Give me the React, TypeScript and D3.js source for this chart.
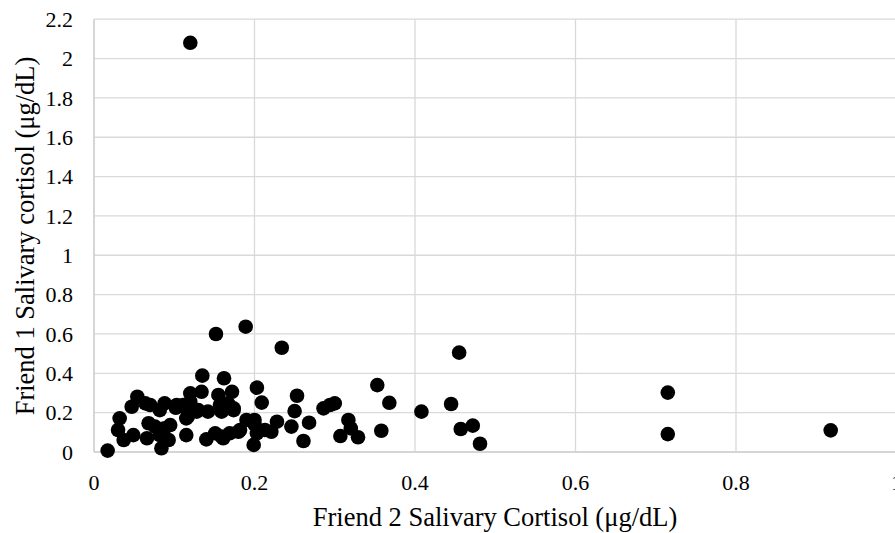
import React from "react";
import * as d3 from "d3";

const friend2: number[] = [
  0.12, 0.715, 0.715, 0.918, 0.455, 0.353, 0.368, 0.408, 0.445, 0.457,
  0.472, 0.481, 0.358, 0.317, 0.32, 0.307, 0.329, 0.286, 0.294, 0.3,
  0.268, 0.261, 0.253, 0.25, 0.246, 0.152, 0.189, 0.234, 0.135, 0.162,
  0.203, 0.209, 0.199, 0.228, 0.221, 0.203, 0.19, 0.2, 0.18, 0.169,
  0.159, 0.151, 0.14, 0.115, 0.115, 0.111, 0.12, 0.134, 0.13, 0.142,
  0.155, 0.159, 0.172, 0.167, 0.174, 0.157, 0.017, 0.032, 0.03, 0.037,
  0.049, 0.047, 0.054, 0.07, 0.064, 0.068, 0.066, 0.076, 0.084, 0.082,
  0.088, 0.093, 0.095, 0.088, 0.082, 0.103, 0.117, 0.174, 0.12, 0.128,
  0.113, 0.213, 0.182, 0.161, 0.102, 0.2,
];
const friend1: number[] = [
  2.08, 0.302, 0.091, 0.11, 0.505, 0.34, 0.25, 0.205, 0.244, 0.117,
  0.134, 0.042, 0.108, 0.163, 0.12, 0.081, 0.075, 0.222, 0.239, 0.247,
  0.149, 0.056, 0.286, 0.208, 0.129, 0.6, 0.637, 0.53, 0.388, 0.375,
  0.327, 0.251, 0.036, 0.154, 0.103, 0.095, 0.163, 0.163, 0.103, 0.095,
  0.078, 0.095, 0.064, 0.086, 0.171, 0.239, 0.298, 0.306, 0.213, 0.205,
  0.29, 0.205, 0.306, 0.247, 0.213, 0.239, 0.007, 0.171, 0.112, 0.061,
  0.086, 0.23, 0.281, 0.239, 0.247, 0.146, 0.07, 0.129, 0.019, 0.086,
  0.247, 0.061, 0.137, 0.12, 0.213, 0.239, 0.18, 0.222, 0.256, 0.205,
  0.23, 0.112, 0.112, 0.07, 0.225, 0.14,
];
const xTicks: number[] = [0, 0.2, 0.4, 0.6, 0.8, 1];
const yTicks: number[] = [0, 0.2, 0.4, 0.6, 0.8, 1, 1.2, 1.4, 1.6, 1.8, 2, 2.2];
const xTitle = "Friend 2 Salivary Cortisol (μg/dL)";
const yTitle = "Friend 1 Salivary cortisol (μg/dL)";

export default function App() {
  const W = 895, H = 533;
  const left = 94, right = 896.5, top = 19.2, bottom = 452;
  const x = d3.scaleLinear().domain([0, 1]).range([left, right]);
  const y = d3.scaleLinear().domain([0, 2.2]).range([bottom, top]);
  const font = "'Liberation Serif', 'Times New Roman', serif";
  const pts = friend2.map((v, i) => ({ x: v, y: friend1[i] }));
  const fmt = (t: number) => String(+t.toFixed(1));
  return (
    <svg width={W} height={H} style={{ position: "absolute", left: 0, top: 0, background: "#fff", fontFamily: font }}>
      <rect x={0} y={0} width={W} height={H} fill="#fff" />
      {yTicks.map((t) => (
        <line key={"gy" + t} x1={left} x2={W} y1={y(t)} y2={y(t)} stroke="#d9d9d9" strokeWidth={1.3} />
      ))}
      {xTicks.map((t) => (
        <line key={"gx" + t} x1={x(t)} x2={x(t)} y1={top} y2={bottom} stroke="#d9d9d9" strokeWidth={1.3} />
      ))}
      <line x1={left} x2={W} y1={bottom} y2={bottom} stroke="#d0d0d0" strokeWidth={1.5} />
      <line x1={left} x2={left} y1={top} y2={bottom} stroke="#d0d0d0" strokeWidth={1.5} />
      {yTicks.map((t) => (
        <text key={"ty" + t} x={73} y={y(t)} dy="0.35em" textAnchor="end" style={{ fontFamily: font }} fontSize={22} fill="#000">
          {fmt(t)}
        </text>
      ))}
      {xTicks.map((t) => (
        <text key={"tx" + t} x={x(t)} y={490} textAnchor="middle" style={{ fontFamily: font }} fontSize={22} fill="#000">
          {fmt(t)}
        </text>
      ))}
      <text x={495} y={526} textAnchor="middle" style={{ fontFamily: font }} fontSize={26.5} fill="#000">
        {xTitle}
      </text>
      <text transform={`translate(34,${236}) rotate(-90)`} textAnchor="middle" style={{ fontFamily: font }} fontSize={26.5} fill="#000">
        {yTitle}
      </text>
      {pts.map((p, i) => (
        <circle key={i} cx={x(p.x)} cy={y(p.y)} r={7.3} fill="#000" />
      ))}
    </svg>
  );
}
